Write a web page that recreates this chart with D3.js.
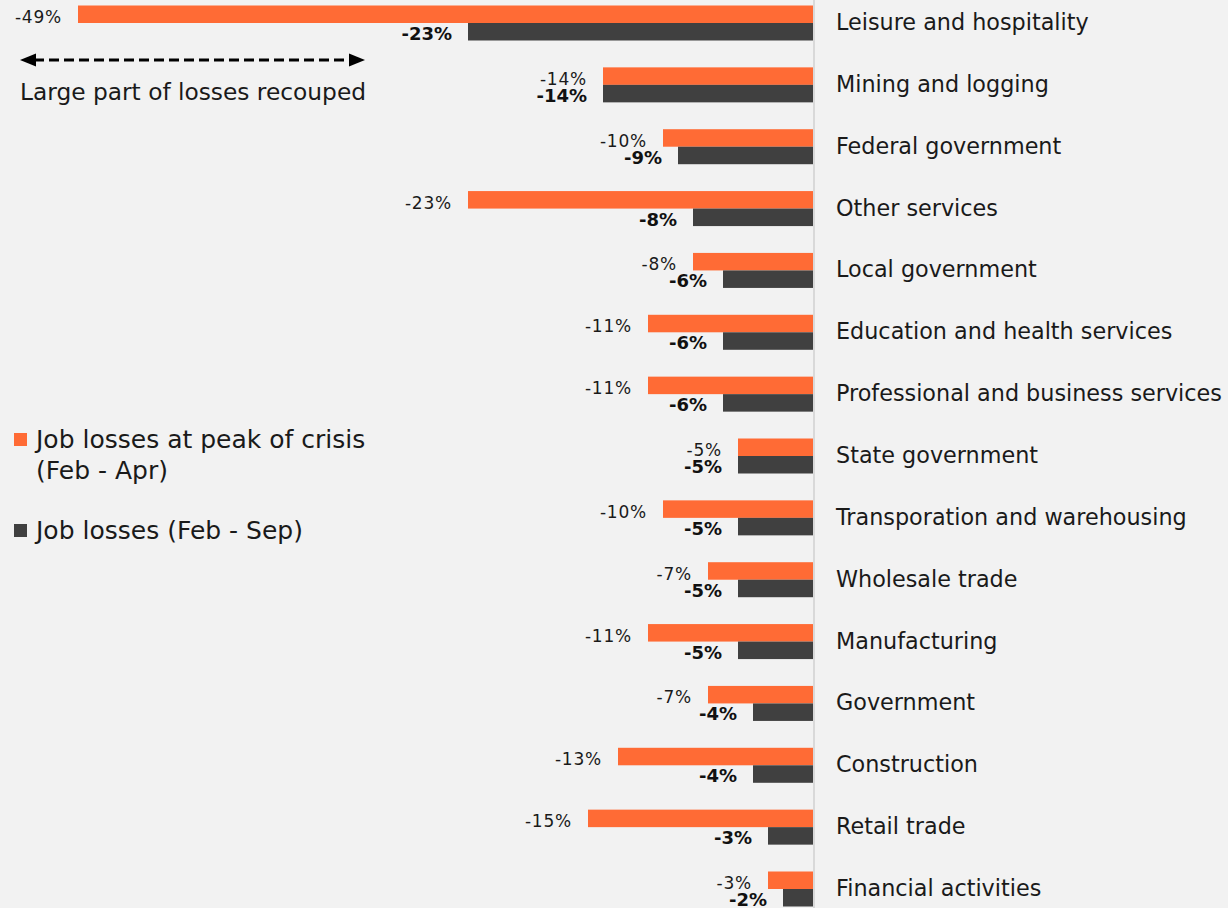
<!DOCTYPE html>
<html><head><meta charset="utf-8">
<script src="https://cdn.jsdelivr.net/npm/d3@7/dist/d3.min.js"></script>
<style>html,body{margin:0;padding:0;background:#f2f2f2;}svg{display:block;}</style>
</head><body><svg id="c" width="1228" height="908"></svg>
<script>
const categories = ["Leisure and hospitality","Mining and logging","Federal government","Other services","Local government","Education and health services","Professional and business services","State government","Transporation and warehousing","Wholesale trade","Manufacturing","Government","Construction","Retail trade","Financial activities"];
const peakLoss = [-49,-14,-10,-23,-8,-11,-11,-5,-10,-7,-11,-7,-13,-15,-3];
const sepLoss = [-23,-14,-9,-8,-6,-6,-6,-5,-5,-5,-5,-4,-4,-3,-2];
const seriesNames = ["Job losses at peak of crisis","(Feb - Apr)","Job losses (Feb - Sep)"];
const annotation = "Large part of losses recouped";

const W = 1228, H = 908;
const ORANGE = "#ff6b35", DARK = "#404040";
const FONT = "'DejaVu Sans', sans-serif";
const svg = d3.select("#c");
svg.append("rect").attr("width",W).attr("height",H).attr("fill","#f2f2f2");

const x = d3.scaleLinear().domain([-50,0]).range([63,813]);
const step = (889-23)/14;
const y = d3.scaleBand().domain(categories).range([23-step/2, 889+step/2]).padding(0);
const bh = 17.5;
const cy = c => y(c) + y.bandwidth()/2;

// zero line
svg.append("line").attr("x1",x(0)+1).attr("x2",x(0)+1).attr("y1",0).attr("y2",H)
  .attr("stroke","#d9d9d9").attr("stroke-width",2);

const g = svg.append("g");
categories.forEach((c,i)=>{
  const yc = cy(c);
  g.append("rect").attr("x",x(peakLoss[i])).attr("y",yc-bh).attr("width",x(0)-x(peakLoss[i])).attr("height",bh).attr("fill",ORANGE);
  g.append("rect").attr("x",x(sepLoss[i])).attr("y",yc).attr("width",x(0)-x(sepLoss[i])).attr("height",bh).attr("fill",DARK);
  g.append("text").attr("x",x(peakLoss[i])-16).attr("y",yc).attr("text-anchor","end")
    .attr("font-family",FONT).attr("font-size",17).attr("letter-spacing",0.8).attr("fill","#1a1a1a").text(peakLoss[i]+"%");
  g.append("text").attr("x",x(sepLoss[i])-16).attr("y",yc+bh-0.5).attr("text-anchor","end")
    .attr("font-family",FONT).attr("font-size",18).attr("font-weight","bold").attr("fill","#111").text(sepLoss[i]+"%");
  g.append("text").attr("x",836).attr("y",yc+7).attr("font-family",FONT).attr("font-size",22.3)
    .attr("fill","#1a1a1a").text(c);
});

// legend
const lg = svg.append("g");
lg.append("rect").attr("x",14).attr("y",433).attr("width",13).attr("height",13).attr("fill",ORANGE);
lg.append("text").attr("x",36).attr("y",448).attr("font-family",FONT).attr("font-size",25).attr("fill","#1a1a1a").text(seriesNames[0]);
lg.append("text").attr("x",36).attr("y",479).attr("font-family",FONT).attr("font-size",25).attr("fill","#1a1a1a").text(seriesNames[1]);
lg.append("rect").attr("x",14).attr("y",524).attr("width",13).attr("height",13).attr("fill",DARK);
lg.append("text").attr("x",36).attr("y",539).attr("font-family",FONT).attr("font-size",25).attr("fill","#1a1a1a").text(seriesNames[2]);

// arrow annotation
const ay = 60, ax0 = 20, ax1 = 365;
svg.append("line").attr("x1",ax0+14).attr("x2",ax1-14).attr("y1",ay).attr("y2",ay)
  .attr("stroke","#000").attr("stroke-width",3).attr("stroke-dasharray","10,5");
svg.append("path").attr("d",`M${ax0},${ay}L${ax0+16},${ay-6.5}L${ax0+16},${ay+6.5}Z`).attr("fill","#000");
svg.append("path").attr("d",`M${ax1},${ay}L${ax1-16},${ay-6.5}L${ax1-16},${ay+6.5}Z`).attr("fill","#000");
svg.append("text").attr("x",20).attr("y",100).attr("font-family",FONT).attr("font-size",23.3).attr("fill","#1a1a1a").text(annotation);
</script></body></html>
